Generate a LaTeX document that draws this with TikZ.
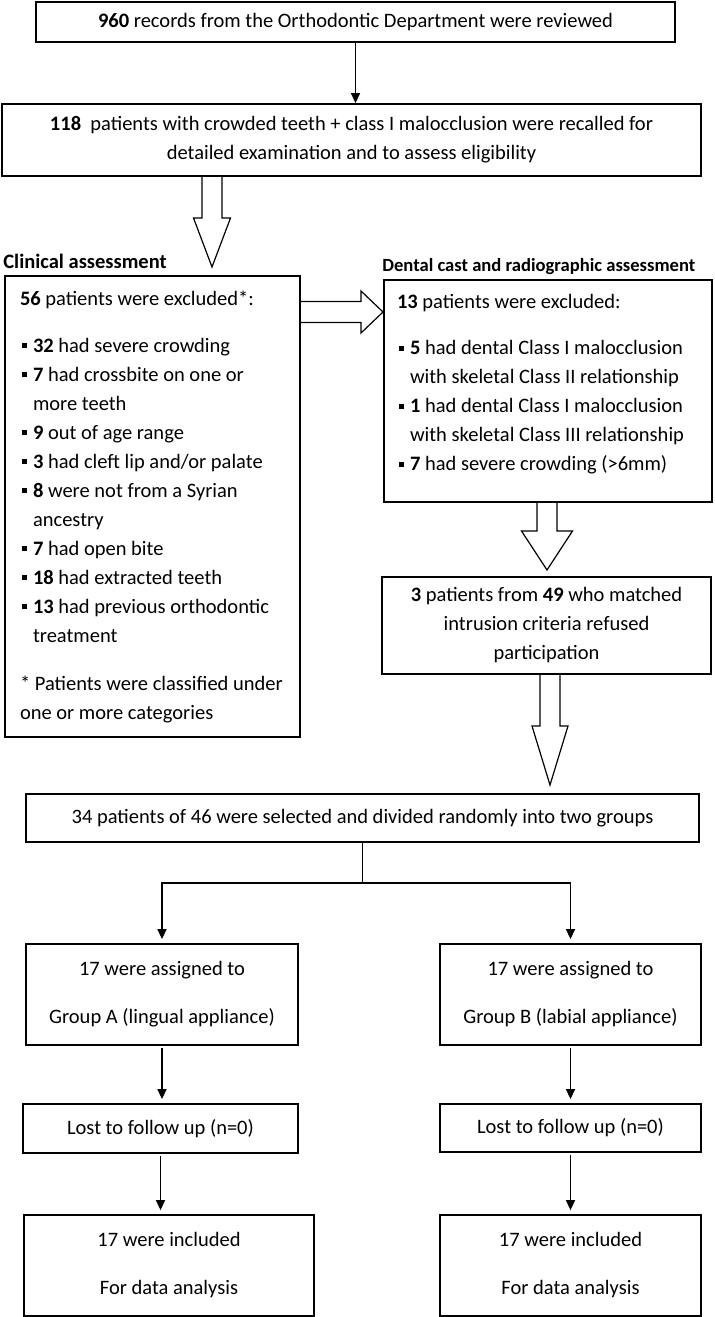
\documentclass[tikz,border=0pt]{standalone}
\usepackage{fontspec}
\setmainfont{Carlito}
\usetikzlibrary{arrows.meta,calc}

\tikzset{
  box/.style={draw,line width=0.9pt,inner sep=0pt,align=center,
    font=\fontsize{10.25}{14.5}\selectfont},
  listbox/.style={box,align=left},
  heading/.style={anchor=base west,inner sep=0pt},
  arr/.style={line width=0.7pt,-{Triangle[length=5pt,width=4.5pt]}},
  hollow/.style={line width=0.6pt,line join=miter}
}

% left indent of a list box, ragged right, no hyphens
\newcommand{\listindent}[1]{\leftskip=#1\rightskip=0pt plus 1fil\hyphenpenalty=10000\spaceskip=0pt\relax}
% small square bullet and the indent of a wrapped item line
\newcommand{\itm}{\hspace*{1pt}\rule[2pt]{2.5pt}{2.5pt}\hspace*{3pt}}
\newcommand{\cont}{\hspace*{6.5pt}}

% hollow block arrows: start, tip, shaft half width, head half width, head length
\newcommand{\downblock}[5]{%
  \draw[hollow] ($(#1)+(-#3,0)$) -- ($(#2)+(-#3,-#5)$) -- ($(#2)+(-#4,-#5)$) -- (#2)
    -- ($(#2)+(#4,-#5)$) -- ($(#2)+(#3,-#5)$) -- ($(#1)+(#3,0)$);}
\newcommand{\rightblock}[5]{%
  \draw[hollow] ($(#1)+(0,-#3)$) -- ($(#2)+(-#5,-#3)$) -- ($(#2)+(-#5,-#4)$) -- (#2)
    -- ($(#2)+(-#5,#4)$) -- ($(#2)+(-#5,#3)$) -- ($(#1)+(0,#3)$);}

\begin{document}
\begin{tikzpicture}[x=0.5pt,y=-0.5pt]

\useasboundingbox (0,0) rectangle (714,1317);

% Draw the screening boxes
\node[box,minimum width=319.5pt,minimum height=20pt] (review) at (355.5,22)
  {\textbf{960} records from the Orthodontic Department were reviewed};
\node[box,minimum width=349.5pt,minimum height=36pt] (recalled) at (351.5,140)
  {\textbf{118}\ \ patients with crowded teeth + class I malocclusion were recalled for\\
   detailed examination and to assess eligibility};

% Draw the two assessments
\node[heading,font=\bfseries\fontsize{10.25}{12}\selectfont] (clinicalhead) at (3,268)
  {Clinical assessment};
\node[heading,font=\bfseries\fontsize{9.3}{11}\selectfont] (dentalhead) at (382,271)
  {Dental cast and radiographic assessment};

\node[listbox,text width=147.5pt,minimum height=230.5pt] (clinical)
  at (152.5,506.5) {\listindent{7.5pt}%
  \textbf{56} patients were excluded*:\\[9pt]
  \itm\textbf{32} had severe crowding\\
  \itm\textbf{7} had crossbite on one or\\
  \cont more teeth\\
  \itm\textbf{9} out of age range\\
  \itm\textbf{3} had cleft lip and/or palate\\
  \itm\textbf{8} were not from a Syrian\\
  \cont ancestry\\
  \itm\textbf{7} had open bite\\
  \itm\textbf{18} had extracted teeth\\
  \itm\textbf{13} had previous orthodontic\\
  \cont treatment\\[9.5pt]
  * Patients were classified under\\
  one or more categories\par};

\node[listbox,text width=164pt,minimum height=111pt]
  (dental) at (548,391) {\listindent{6.5pt}%
  \textbf{13} patients were excluded:\\[8.5pt]
  \itm\textbf{5} had dental Class I malocclusion\\
  \cont with skeletal Class II relationship\\
  \itm\textbf{1} had dental Class I malocclusion\\
  \cont with skeletal Class III relationship\\
  \itm\textbf{7} had severe crowding (>6mm)\\[-6pt]
  \mbox{}\par};

\node[box,minimum width=164.5pt,minimum height=48.5pt] (refused) at (546.5,625.5)
  {\textbf{3} patients from \textbf{49} who matched\\
   intrusion criteria refused\\
   participation};
\node[box,minimum width=336.5pt,minimum height=24pt] (selected) at (362.5,818)
  {34 patients of 46 were selected and divided randomly into two groups};

% Draw the two groups
\node[box,minimum width=136pt,minimum height=50.5pt] (a1) at (162,994.5)
  {17 were assigned to\\[9.5pt] Group A (lingual appliance)};
\node[box,minimum width=130.5pt,minimum height=50.5pt] (b1) at (570.5,994.5)
  {17 were assigned to\\[9.5pt] Group B (labial appliance)};
\node[box,minimum width=137.5pt,minimum height=24.5pt] (a2) at (160.5,1128.5)
  {Lost to follow up (n=0)};
\node[box,minimum width=130.5pt,minimum height=24pt] (b2) at (570.5,1128)
  {Lost to follow up (n=0)};
\node[box,minimum width=145pt,minimum height=50.5pt] (a3) at (169,1265.5)
  {17 were included\\[9.5pt] For data analysis};
\node[box,minimum width=130.5pt,minimum height=50.5pt] (b3) at (570.5,1265.5)
  {17 were included\\[9.5pt] For data analysis};

% Draw the block arrows
\coordinate (tip1) at (212,267);
\coordinate (tip2) at (383,312);
\coordinate (tip3) at (547,570);
\coordinate (tip4) at (550,785);
\coordinate (from1) at (tip1 |- recalled.south);
\coordinate (from2) at (clinical.east |- tip2);
\coordinate (from3) at (tip3 |- dental.south);
\coordinate (from4) at (tip4 |- refused.south);
\downblock{from1}{tip1}{10}{18.5}{49}
\rightblock{from2}{tip2}{10.5}{21}{22}
\downblock{from3}{tip3}{10}{25.5}{39}
\downblock{from4}{tip4}{10}{18}{59}

% Draw the plain arrows
\draw[arr] (review.south) -- (review.south |- recalled.north);
\coordinate (split) at ($(selected.south)+(0,40)$);
\foreach \g in {a1,b1}
  \draw[arr,shorten >=2pt] (selected.south) -- (split) -| (\g.north);
\foreach \u/\v in {a1/a2,a2/a3,b1/b2,b2/b3}
  \draw[arr,shorten <=1pt,shorten >=2pt] (\u.south) -- (\u.south |- \v.north);

\end{tikzpicture}
\end{document}
